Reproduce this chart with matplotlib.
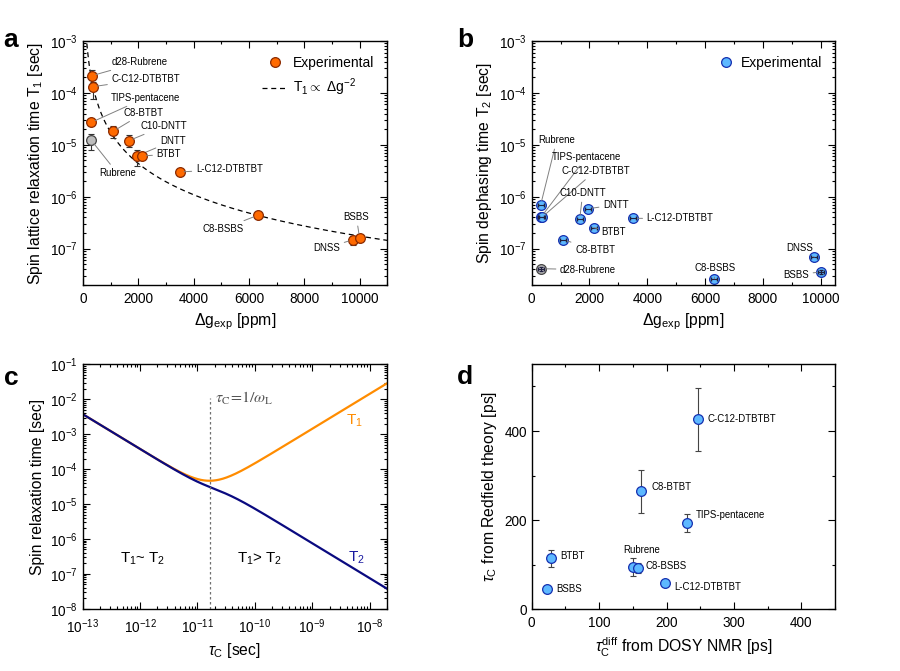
import numpy as np
import matplotlib
matplotlib.use('Agg')
import matplotlib.pyplot as plt
from matplotlib.ticker import MultipleLocator, LogLocator, NullFormatter

plt.rcParams['font.family'] = ['Liberation Sans', 'DejaVu Sans']
plt.rcParams['mathtext.fontset'] = 'custom'
plt.rcParams['mathtext.rm'] = 'Liberation Sans'
plt.rcParams['mathtext.it'] = 'Liberation Sans:italic'
plt.rcParams['mathtext.bf'] = 'Liberation Sans:bold'

# ---- panel a: T1 vs delta g ----
names_a = ['d28-Rubrene', 'C-C12-DTBTBT', 'TIPS-pentacene', 'Rubrene', 'C8-BTBT', 'C10-DNTT',
           'DNTT', 'BTBT', 'L-C12-DTBTBT', 'C8-BSBS', 'DNSS', 'BSBS']
dg_a = [326, 362, 302, 302, 1087, 1655, 1944, 2138, 3502, 6316, 9758, 10000]
t1 = [2.15e-4, 1.32e-4, 2.71e-5, 1.22e-5, 1.82e-5, 1.2e-5, 6.1e-6, 6.1e-6, 3.0e-6, 4.39e-7, 1.49e-7, 1.63e-7]
t1_lo = [1.75e-4, 7.8e-5, 2.6e-5, 8.1e-6, 1.35e-5, 9.1e-6, 4.0e-6, 5.6e-6, 2.8e-6, 4.0e-7, 1.18e-7, 1.5e-7]
t1_hi = [2.72e-4, 1.62e-4, 2.8e-5, 1.64e-5, 2.27e-5, 1.52e-5, 8.1e-6, 6.6e-6, 3.2e-6, 4.8e-7, 1.75e-7, 1.75e-7]
label_a_pos = [(1030, 3.9e-4), (1030, 1.85e-4), (1000, 8.0e-5), (580, 2.85e-6), (1470, 4.1e-5), (2090, 2.3e-5),
               (2780, 1.19e-5), (2660, 6.6e-6), (4080, 3.4e-6), (5800, 2.4e-7), (9300, 1.03e-7), (9420, 4.1e-7)]
fit_const = 17.5  # T1 = C * dg^-2

# ---- panel b: T2 vs delta g ----
names_b = ['Rubrene', 'TIPS-pentacene', 'C-C12-DTBTBT', 'C10-DNTT', 'DNTT', 'BTBT', 'C8-BTBT',
           'L-C12-DTBTBT', 'd28-Rubrene', 'C8-BSBS', 'DNSS', 'BSBS']
dg_b = [311, 334, 369, 1661, 1961, 2145, 1096, 3518, 334, 6321, 9781, 10011]
t2 = [7.05e-7, 4.13e-7, 4.1e-7, 3.67e-7, 5.89e-7, 2.54e-7, 1.49e-7, 3.84e-7, 4.12e-8, 2.64e-8, 6.92e-8, 3.56e-8]
label_b_pos = [(231, 1.24e-5), (690, 5.75e-6), (1015, 3.13e-6), (957, 1.18e-6), (2470, 7.0e-7), (2420, 2.1e-7),
               (1500, 9.5e-8), (3980, 3.84e-7), (980, 3.93e-8), (5630, 4.25e-8), (9750, 1.03e-7), (9600, 3.16e-8)]

# ---- panel c: Redfield model ----
tau_min, tau_max = 1e-13, 2e-8
omega_L = 6.17e10       # rad/s (X-band)
A_relax = 2.66e15       # coupling prefactor

# ---- panel d: tau_c comparison ----
names_d = ['C-C12-DTBTBT', 'C8-BTBT', 'TIPS-pentacene', 'BTBT', 'BSBS', 'Rubrene', 'C8-BSBS', 'L-C12-DTBTBT']
tau_diff = [246, 162, 230, 29, 23, 151, 157, 198]
tau_red = [426, 265, 194, 114, 46, 94, 93, 58]
tau_err = [70, 48, 20, 19, 4, 20, 11, 5]
label_d_pos = [(261, 428), (177, 275), (244, 211), (43, 120), (36, 46), (136, 134), (169, 98), (211, 49)]

orange = '#FF6A00'
orange_edge = '#8B2A00'
blue = '#5DB8FF'
blue_edge = '#1530B0'
gray_fill = '#BDBDBD'
gray_edge = '#444444'
lead = '#808080'
TICK = 9.8
LAB = 10.8
ANN = 6.9

fig = plt.figure(figsize=(9, 6.71), dpi=100)
ax_a = fig.add_axes([0.0922, 0.5753, 0.338, 0.3636])
ax_b = fig.add_axes([0.5908, 0.5753, 0.337, 0.3636])
ax_c = fig.add_axes([0.0919, 0.0928, 0.338, 0.3641])
ax_d = fig.add_axes([0.5908, 0.0920, 0.337, 0.3652])


def style_axes(ax):
    ax.tick_params(which='both', direction='in', top=True, right=True, labelsize=TICK, width=0.8)
    ax.tick_params(which='major', length=5)
    ax.tick_params(which='minor', length=2.5)
    ax.tick_params(axis='x', pad=5)
    for s in ax.spines.values():
        s.set_linewidth(1.0)


def leader(ax, name, xy, text_xy, right=False):
    ax.annotate(name, xy=xy, xytext=text_xy, fontsize=ANN, va='center',
                ha='right' if right else 'left',
                arrowprops=dict(arrowstyle='-', color=lead, lw=0.7, shrinkA=1, shrinkB=3))


def log_ticks(axis):
    axis.set_major_locator(LogLocator(base=10, numticks=20))
    axis.set_minor_locator(LogLocator(base=10, subs=np.arange(2, 10), numticks=20))
    axis.set_minor_formatter(NullFormatter())


# panel a
ax_a.set_yscale('log')
xs = np.linspace(140, 11000, 400)
ax_a.plot(xs, fit_const / xs ** 2, ls=(0, (4, 3)), color='black', lw=0.9,
          label=r'T$_1$$\propto$ $\Delta$g$^{-2}$', zorder=1)
for i, nm in enumerate(names_a):
    fc, ec = (gray_fill, gray_edge) if nm == 'Rubrene' else (orange, orange_edge)
    ax_a.errorbar(dg_a[i], t1[i], yerr=[[t1[i] - t1_lo[i]], [t1_hi[i] - t1[i]]], fmt='none',
                  ecolor='#333333', elinewidth=0.8, capsize=2.5, capthick=0.8, zorder=2)
    ax_a.plot(dg_a[i], t1[i], 'o', ms=7, mfc=fc, mec=ec, mew=0.9, zorder=3,
              label='Experimental' if i == 0 else None)
    tx, ty = label_a_pos[i]
    leader(ax_a, nm, (dg_a[i], t1[i]), (tx, ty), right=nm in ('C8-BSBS', 'DNSS'))
ax_a.set_xlim(0, 11000)
ax_a.set_ylim(2e-8, 1e-3)
ax_a.xaxis.set_major_locator(MultipleLocator(2000))
ax_a.xaxis.set_minor_locator(MultipleLocator(1000))
log_ticks(ax_a.yaxis)
ax_a.set_xlabel(r'$\Delta$g$_\mathrm{exp}$ [ppm]', fontsize=LAB + 0.5)
ax_a.set_ylabel(r'Spin lattice relaxation time T$_1$ [sec]', fontsize=11.3)
h, l = ax_a.get_legend_handles_labels()
ax_a.legend(h[::-1], l[::-1], loc='upper right', frameon=False, fontsize=10, handlelength=1.9,
            handletextpad=0.35, bbox_to_anchor=(1.0, 0.99))
style_axes(ax_a)

# panel b
ax_b.set_yscale('log')
for i, nm in enumerate(names_b):
    fc, ec = (gray_fill, gray_edge) if nm == 'd28-Rubrene' else (blue, blue_edge)
    ax_b.plot(dg_b[i], t2[i], 'o', ms=7, mfc=fc, mec=ec, mew=0.9, zorder=2,
              label='Experimental' if i == 0 else None)
    yerr = t2[i] * 0.1 if nm in ('BSBS', 'd28-Rubrene') else None
    ax_b.errorbar(dg_b[i], t2[i], xerr=100, yerr=yerr, fmt='none', ecolor='#202040',
                  elinewidth=0.8, capsize=1.5, zorder=3)
    tx, ty = label_b_pos[i]
    leader(ax_b, nm, (dg_b[i], t2[i]), (tx, ty), right=nm in ('DNSS', 'BSBS'))
ax_b.set_xlim(0, 10500)
ax_b.set_ylim(2e-8, 1e-3)
ax_b.xaxis.set_major_locator(MultipleLocator(2000))
ax_b.xaxis.set_minor_locator(MultipleLocator(1000))
log_ticks(ax_b.yaxis)
ax_b.set_xlabel(r'$\Delta$g$_\mathrm{exp}$ [ppm]', fontsize=LAB + 0.5)
ax_b.set_ylabel(r'Spin dephasing time T$_2$ [sec]', fontsize=11.3)
ax_b.legend(loc='upper right', frameon=False, fontsize=10, handlelength=1.0, handletextpad=0.6,
            bbox_to_anchor=(1.0, 0.99))
style_axes(ax_b)

# panel c
tau = np.logspace(np.log10(tau_min), np.log10(tau_max), 500)
lor = tau / (1 + (omega_L * tau) ** 2)
T1 = 1 / (A_relax * lor)
T2 = 1 / (A_relax / 2 * (tau + lor))
ax_c.loglog(tau, T1, color='#FF8C00', lw=1.6)
ax_c.loglog(tau, T2, color='#0A0A80', lw=1.6)
ax_c.plot([1 / omega_L, 1 / omega_L], [1e-8, 1.1e-2], ls=(0, (2, 2)), color='#707070', lw=0.9)
ax_c.text(2.0e-11, 1.05e-2, r'$\tau_\mathrm{C}\!=\!1/\omega_\mathrm{L}$', fontsize=11.5, color='#555555',
          math_fontfamily='stix', va='center')
ax_c.text(4.5e-13, 2.75e-7, r'T$_1$~ T$_2$', fontsize=10.8, va='center')
ax_c.text(4.8e-11, 2.75e-7, r'T$_1$> T$_2$', fontsize=10.8, va='center')
ax_c.text(3.9e-9, 2.4e-3, r'T$_1$', fontsize=11, color='#FF8C00', va='center')
ax_c.text(4.2e-9, 2.9e-7, r'T$_2$', fontsize=11, color='#1A1AA0', va='center')
ax_c.set_xlim(tau_min, tau_max)
ax_c.set_ylim(1e-8, 1e-1)
log_ticks(ax_c.xaxis)
log_ticks(ax_c.yaxis)
ax_c.set_xlabel(r'$\tau_\mathrm{C}$ [sec]', fontsize=LAB + 0.5)
ax_c.set_ylabel('Spin relaxation time [sec]', fontsize=11.3)
style_axes(ax_c)
ax_c.tick_params(axis='x', pad=6)

# panel d
ax_d.errorbar(tau_diff, tau_red, yerr=tau_err, fmt='none', ecolor='#444444', elinewidth=0.8,
              capsize=2.5, capthick=0.8, zorder=2)
ax_d.plot(tau_diff, tau_red, 'o', ms=7, mfc=blue, mec=blue_edge, mew=0.9, ls='none', zorder=3)
for i, nm in enumerate(names_d):
    ax_d.text(label_d_pos[i][0], label_d_pos[i][1], nm, fontsize=ANN, va='center')
ax_d.set_xlim(0, 450)
ax_d.set_ylim(0, 550)
ax_d.xaxis.set_major_locator(MultipleLocator(100))
ax_d.xaxis.set_minor_locator(MultipleLocator(50))
ax_d.yaxis.set_major_locator(MultipleLocator(200))
ax_d.yaxis.set_minor_locator(MultipleLocator(100))
ax_d.set_xlabel(r'$\tau_\mathrm{C}^\mathrm{diff}$ from DOSY NMR [ps]', fontsize=LAB + 0.5)
ax_d.set_ylabel(r'$\tau_\mathrm{C}$ from Redfield theory [ps]', fontsize=11.3)
style_axes(ax_d)

for txt, x, y in [('a', 0.004, 0.94), ('b', 0.508, 0.94), ('c', 0.004, 0.437), ('d', 0.508, 0.438)]:
    fig.text(x, y, txt, fontsize=19, fontweight='bold', va='center')

fig.savefig('out.png', dpi=100)
